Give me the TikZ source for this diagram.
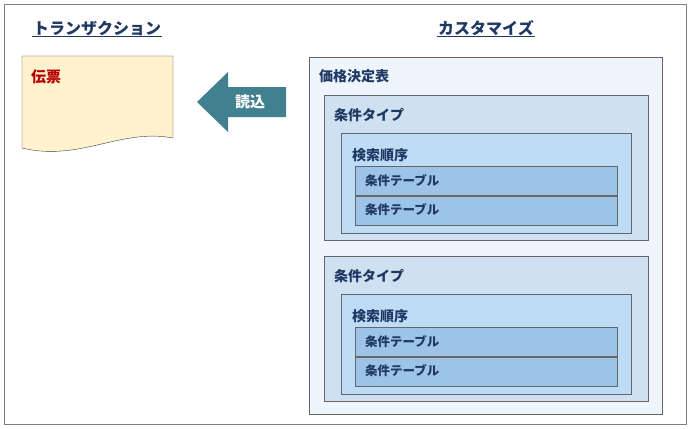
\documentclass[tikz,border=0pt]{standalone}
\usepackage{fontspec}
\setmainfont{Noto Sans CJK JP}
\definecolor{navy}{HTML}{1F3864}
\definecolor{doc}{HTML}{FFF2CC}
\definecolor{teal}{HTML}{41808F}
\definecolor{tabfill}{HTML}{EEF5FC}
\definecolor{typefill}{HTML}{CFE0F1}
\definecolor{seqfill}{HTML}{BDDDF7}
\definecolor{condfill}{HTML}{9DC3E6}
\tikzset{
 box/.style={draw=gray!80!black, anchor=north west, inner sep=0pt},
 lbl/.style={anchor=west, text=navy, font=\bfseries\fontsize{14}{16}\selectfont, inner sep=0pt},
 ttl/.style={text=navy, font=\bfseries\fontsize{16}{18}\selectfont, inner sep=1pt}
}
\begin{document}
\begin{tikzpicture}[x=1pt,y=-1pt]
 \draw [gray, fill=white] (4,4) rectangle (686,424);
 \useasboundingbox (0,0) rectangle (690,428);

 \node [ttl] (tr) at (97,28) {トランザクション};
 \draw [navy, thick] (tr.south west) -- (tr.south east);
 \node [ttl] (cu) at (486,28) {カスタマイズ};
 \draw [navy, thick] (cu.south west) -- (cu.south east);

 % document
 \draw [gray!50!black, fill=doc] (22,56) -- (173,56) -- (173,138)
   .. controls (120,128) and (80,162) .. (22,148) -- cycle;
 \node [anchor=west, text=red!70!black, font=\bfseries\fontsize{15}{17}\selectfont, inner sep=0pt] (den) at (31,77) {伝票};

 % arrow
 \fill [teal] (197,102) -- (228,72) -- (228,87) -- (286,87) -- (286,117) -- (228,117) -- (228,132) -- cycle;
 \node [text=white, font=\bfseries\fontsize{15}{17}\selectfont, inner sep=0pt] (yomi) at (250,102) {読込};

 \node [box, fill=tabfill, minimum width=353, minimum height=357] (tab) at (309,57) {};
 \node [lbl] (tabl) at (319,76) {価格決定表};

 \foreach \y [count=\i] in {95,256} {
  \node [box, fill=typefill, minimum width=324, minimum height=145] (type\i) at (324,\y) {};
  \node [lbl] (typel\i) at (334,\y+20) {条件タイプ};
  \node [box, fill=seqfill, minimum width=290, minimum height=100] (seq\i) at (341,\y+38) {};
  \node [lbl] (seql\i) at (352,\y+60) {検索順序};
  \node [box, fill=condfill, minimum width=262, minimum height=29] (ta\i) at (355,\y+71) {};
  \node [lbl, font=\fontsize{12.5}{14}\selectfont\bfseries] (tal\i) at (365,\y+86) {条件テーブル};
  \node [box, fill=condfill, minimum width=262, minimum height=29] (tb\i) at (355,\y+101) {};
  \node [lbl, font=\fontsize{12.5}{14}\selectfont\bfseries] (tbl\i) at (365,\y+115) {条件テーブル};
 }
\end{tikzpicture}
\end{document}
